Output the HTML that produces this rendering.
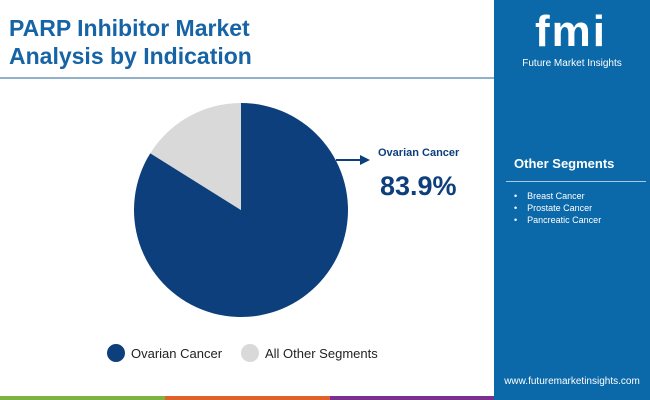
<!DOCTYPE html>
<html><head><meta charset="utf-8"><style>
body{margin:0;width:650px;height:400px;overflow:hidden;background:#fff;font-family:"Liberation Sans",sans-serif;position:relative}
.abs{position:absolute}
</style></head><body>
<div class="abs" style="left:9px;top:14px;font-size:23px;font-weight:bold;line-height:28px;color:#1663a6">PARP Inhibitor Market<br>Analysis by Indication</div>
<div class="abs" style="left:0;top:77px;width:494px;height:2px;background:#8fb1c9"></div>
<svg class="abs" style="left:0;top:0" width="494" height="400">
<g id="pie"></g>
<line x1="336" y1="160" x2="362" y2="160" stroke="#0d3f7c" stroke-width="2"/>
<polygon points="360,155 370,160 360,165" fill="#0d3f7c"/>
<text x="378" y="156" font-size="11" font-weight="bold" fill="#0d3f7c">Ovarian Cancer</text>
<text x="380" y="195" font-size="27" font-weight="bold" fill="#0d3f7c">83.9%</text>
<circle cx="116" cy="353" r="9" fill="#0d3f7c"/>
<text x="131" y="358" font-size="13" fill="#222">Ovarian Cancer</text>
<circle cx="250" cy="353" r="9" fill="#d9d9d9"/>
<text x="265" y="358" font-size="13" fill="#222">All Other Segments</text>
</svg>
<div class="abs" style="left:494px;top:0;width:156px;height:400px;background:#0b69aa;color:#fff">
  <div class="abs" style="left:22px;top:8px;width:110px;font-size:44px;font-weight:bold;letter-spacing:2px;text-align:center;line-height:48px">fmi</div>
  <div class="abs" style="left:0;top:58px;width:156px;text-align:center;font-size:10px">Future Market Insights</div>
  <div class="abs" style="left:20px;top:156px;font-size:13px;font-weight:bold">Other Segments</div>
  <div class="abs" style="left:12px;top:181px;width:140px;height:1px;background:#a9c8e2"></div>
  <div class="abs" style="left:20px;top:190px;font-size:9px;line-height:12px">•&nbsp;&nbsp;&nbsp;&nbsp;Breast Cancer<br>•&nbsp;&nbsp;&nbsp;&nbsp;Prostate Cancer<br>•&nbsp;&nbsp;&nbsp;&nbsp;Pancreatic Cancer</div>
  <div class="abs" style="left:0;top:376px;width:156px;text-align:center;font-size:10px">www.futuremarketinsights.com</div>
</div>
<div class="abs" style="left:0;top:396px;width:165px;height:4px;background:#7cb342"></div>
<div class="abs" style="left:165px;top:396px;width:165px;height:4px;background:#e0622b"></div>
<div class="abs" style="left:330px;top:396px;width:164px;height:4px;background:#7b2f8e"></div>
<script>
const categories=["Ovarian Cancer","All Other Segments"];
const values=[83.9,16.1];
const colors=["#0d3f7c","#d9d9d9"];
const cx=241,cy=210,r=107;
const g=document.getElementById('pie');
const total=values.reduce((a,b)=>a+b,0);
let a0=-Math.PI/2;
values.forEach((v,i)=>{
  const a1=a0+v/total*2*Math.PI;
  const large=(a1-a0)>Math.PI?1:0;
  const p=document.createElementNS('http://www.w3.org/2000/svg','path');
  p.setAttribute('d',`M${cx},${cy} L${cx+r*Math.cos(a0)},${cy+r*Math.sin(a0)} A${r},${r} 0 ${large} 1 ${cx+r*Math.cos(a1)},${cy+r*Math.sin(a1)} Z`);
  p.setAttribute('fill',colors[i]);
  
  
  g.appendChild(p);
  a0=a1;
});
</script>
</body></html>
